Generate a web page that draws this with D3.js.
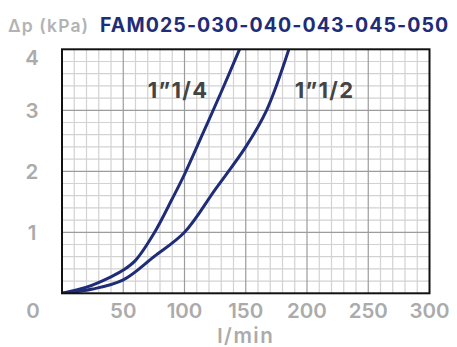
<!DOCTYPE html>
<html>
<head>
<meta charset="utf-8">
<script src="https://cdn.jsdelivr.net/npm/d3@7"></script>
<style>
  html, body { margin: 0; padding: 0; background: #fff; }
  svg { display: block; }
</style>
</head>
<body>
<svg id="chart" width="457" height="347"></svg>
<script>
// Flow (l/min) vs pressure drop (kPa) for the two connection sizes
const flow114 = [0, 20, 40, 50, 60, 75, 90, 100, 115, 130, 146];
const dp114   = [0, 0.1, 0.27, 0.38, 0.54, 0.98, 1.55, 1.95, 2.62, 3.3, 4.05];
const flow112 = [0, 25, 50, 75, 100, 125, 150, 167, 186];
const dp112   = [0, 0.07, 0.22, 0.6, 1.0, 1.7, 2.4, 3.0, 4.05];
const seriesNames = ["1\u201d1/4", "1\u201d1/2"];
const xTicks = [50, 100, 150, 200, 250, 300];
const yTicks = [1, 2, 3, 4];
const titleText = "FAM025-030-040-043-045-050";
const yUnit = "\u0394p (kPa)";
const xUnit = "l/min";

const svg = d3.select("#chart");
const font = "Inter, Lato, sans-serif";
const navy = "#1f2c78";
const grey = "#ababab";

const x = d3.scaleLinear().domain([0, 300]).range([62, 429.5]);
const y = d3.scaleLinear().domain([0, 4]).range([293.3, 49.3]);

// grid: minor every 10 l/min / 0.2 kPa, major every 50 l/min / 1 kPa
const g = svg.append("g");
const minorX = d3.range(10, 300, 10).filter(v => v % 50 !== 0);
const minorY = d3.range(1, 20).map(i => i * 0.2).filter((v, i) => (i + 1) % 5 !== 0);
g.selectAll(".mx").data(minorX).join("line")
  .attr("x1", d => x(d)).attr("x2", d => x(d))
  .attr("y1", y(0)).attr("y2", y(4))
  .attr("stroke", "#d2d2d2").attr("stroke-width", 1.2);
g.selectAll(".my").data(minorY).join("line")
  .attr("y1", d => y(d)).attr("y2", d => y(d))
  .attr("x1", x(0)).attr("x2", x(300))
  .attr("stroke", "#d2d2d2").attr("stroke-width", 1.2);
g.selectAll(".Mx").data(xTicks.filter(v => v < 300)).join("line")
  .attr("x1", d => x(d)).attr("x2", d => x(d))
  .attr("y1", y(0)).attr("y2", y(4))
  .attr("stroke", "#9c9c9c").attr("stroke-width", 1.2);
g.selectAll(".My").data(yTicks.filter(v => v < 4)).join("line")
  .attr("y1", d => y(d)).attr("y2", d => y(d))
  .attr("x1", x(0)).attr("x2", x(300))
  .attr("stroke", "#9c9c9c").attr("stroke-width", 1.2);

// curves, clipped to the plot frame
svg.append("clipPath").attr("id", "plotClip")
  .append("rect").attr("x", x(0)).attr("y", y(4))
  .attr("width", x(300) - x(0)).attr("height", y(0) - y(4));

const line = d3.line().x(d => x(d[0])).y(d => y(d[1])).curve(d3.curveCatmullRom.alpha(0.5));
const curves = [d3.zip(flow114, dp114), d3.zip(flow112, dp112)];
svg.append("g").attr("clip-path", "url(#plotClip)")
  .selectAll("path").data(curves).join("path")
  .attr("d", line)
  .attr("fill", "none").attr("stroke", navy).attr("stroke-width", 3)
  .attr("stroke-linejoin", "round").attr("stroke-linecap", "round");

// frame
svg.append("rect").attr("x", x(0)).attr("y", y(4))
  .attr("width", x(300) - x(0)).attr("height", y(0) - y(4))
  .attr("fill", "none").attr("stroke", "#111").attr("stroke-width", 2);

// axis labels
const tickFont = sel => sel
  .attr("font-family", font).attr("font-weight", 600).attr("font-size", 20.5)
  .attr("fill", grey).attr("text-anchor", "middle");
svg.append("g").selectAll("text").data(xTicks).join("text")
  .attr("x", d => x(d)).attr("y", 318).call(tickFont).text(d => d);
svg.append("text").attr("x", 33).attr("y", 318).call(tickFont).text("0");
svg.append("g").selectAll("text").data(yTicks).join("text")
  .attr("x", 32).attr("y", d => Math.max(y(d), y(4) + 8) + 7.5)
  .call(tickFont).text(d => d);
svg.append("text").attr("x", x(150)).attr("y", 343).call(tickFont)
  .attr("letter-spacing", 1.5).text(xUnit);

// title
svg.append("text").attr("x", 8).attr("y", 31.7)
  .attr("font-family", font).attr("font-weight", 600).attr("font-size", 17.5)
  .attr("letter-spacing", 1.1)
  .attr("fill", "#b3b3b3").text(yUnit);
svg.append("text").attr("x", 100).attr("y", 31.7)
  .attr("font-family", font).attr("font-weight", 700).attr("font-size", 19.5)
  .attr("letter-spacing", 1.1)
  .attr("fill", navy).text(titleText);

// series labels
const labelPos = [[x(70), 98.3], [x(190), 98.3]];
svg.append("g").selectAll("text").data(seriesNames).join("text")
  .attr("x", (d, i) => labelPos[i][0]).attr("y", (d, i) => labelPos[i][1])
  .attr("font-family", font).attr("font-weight", 700).attr("font-size", 22)
  .attr("letter-spacing", 1.3)
  .attr("fill", "#444").text(d => d);
</script>
</body>
</html>
